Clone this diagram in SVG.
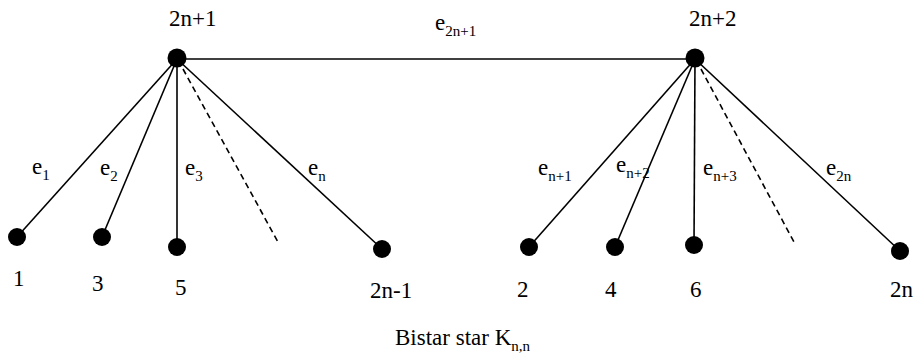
<svg xmlns="http://www.w3.org/2000/svg" width="917" height="353" viewBox="0 0 917 353">
<style>
.edge{stroke:#000;stroke-width:1.6;fill:none}
.dash{stroke:#000;stroke-width:1.6;fill:none;stroke-dasharray:6,4}
.node{fill:#000}
text{font-family:"Liberation Serif","Times New Roman",serif;font-size:23px;fill:#000}
.sub{font-size:15px}
</style>
<rect width="917" height="353" fill="#fff"/>
<g id="connectors">
<line class="edge" x1="177" y1="59" x2="695" y2="59"/>
<line class="edge" x1="177" y1="59" x2="17" y2="237"/>
<line class="edge" x1="177" y1="59" x2="102" y2="237"/>
<line class="edge" x1="177" y1="59" x2="177" y2="247"/>
<line class="dash" x1="183" y1="69" x2="278" y2="242"/>
<line class="edge" x1="177" y1="59" x2="382" y2="249"/>
<line class="edge" x1="695" y1="59" x2="529" y2="247"/>
<line class="edge" x1="695" y1="59" x2="615" y2="247"/>
<line class="edge" x1="695" y1="59" x2="694" y2="245"/>
<line class="dash" x1="701" y1="69" x2="794" y2="242"/>
<line class="edge" x1="695" y1="59" x2="900" y2="251"/>
<text x="435" y="30">e<tspan class="sub" dy="6">2n+1</tspan></text>
<text x="32" y="174">e<tspan class="sub" dy="6">1</tspan></text>
<text x="100" y="175">e<tspan class="sub" dy="6">2</tspan></text>
<text x="185" y="175">e<tspan class="sub" dy="6">3</tspan></text>
<text x="308" y="175">e<tspan class="sub" dy="6">n</tspan></text>
<text x="538" y="175">e<tspan class="sub" dy="6">n+1</tspan></text>
<text x="616" y="172">e<tspan class="sub" dy="6">n+2</tspan></text>
<text x="703" y="175">e<tspan class="sub" dy="6">n+3</tspan></text>
<text x="826" y="175">e<tspan class="sub" dy="6">2n</tspan></text>
</g>
<g id="n2n1"><circle class="node" cx="177" cy="58" r="9.5"/><text x="169" y="26">2n+1</text></g>
<g id="n2n2"><circle class="node" cx="695" cy="58" r="9.5"/><text x="689" y="26">2n+2</text></g>
<g id="n1"><circle class="node" cx="17" cy="237" r="9"/><text x="13" y="286">1</text></g>
<g id="n3"><circle class="node" cx="102" cy="237" r="9"/><text x="92" y="291">3</text></g>
<g id="n5"><circle class="node" cx="177" cy="247" r="9"/><text x="175" y="295">5</text></g>
<g id="n2nm1"><circle class="node" cx="382" cy="249" r="9"/><text x="370" y="298">2n-1</text></g>
<g id="n2"><circle class="node" cx="529" cy="247" r="9"/><text x="517" y="297">2</text></g>
<g id="n4"><circle class="node" cx="615" cy="247" r="9"/><text x="605" y="297">4</text></g>
<g id="n6"><circle class="node" cx="694" cy="245" r="9"/><text x="690" y="297">6</text></g>
<g id="n2n"><circle class="node" cx="900" cy="251" r="9"/><text x="890" y="297">2n</text></g>
<g id="caption"><text x="395" y="345">Bistar star K<tspan class="sub" dy="6">n,n</tspan></text></g>
</svg>
